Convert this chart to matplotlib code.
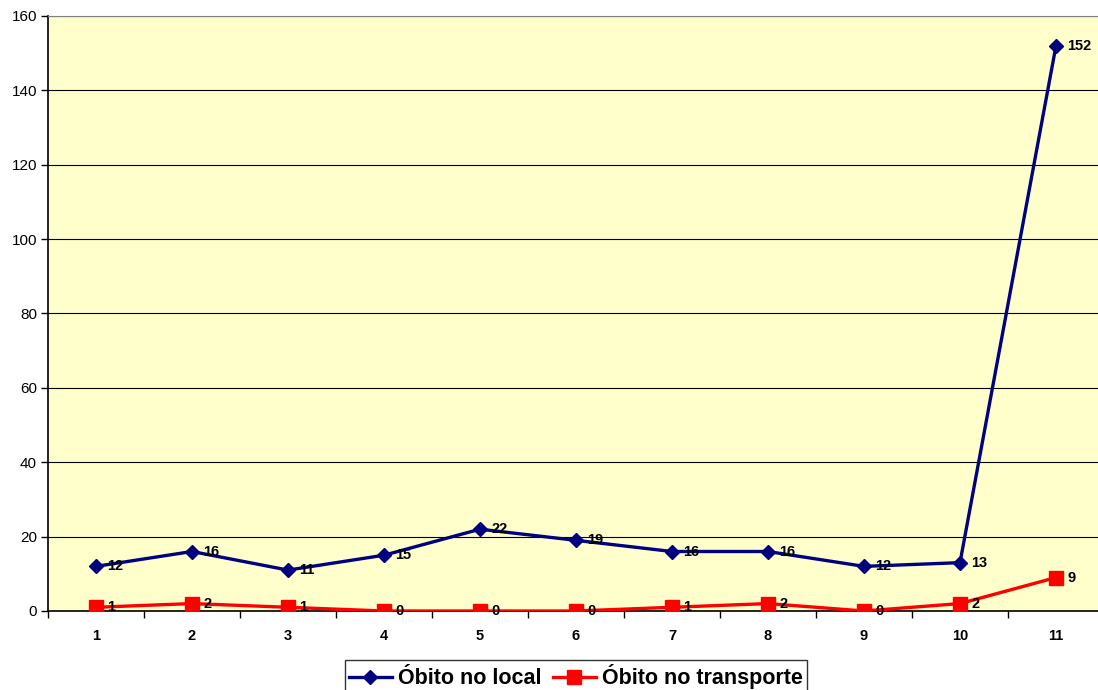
import numpy as np
import matplotlib
matplotlib.use("Agg")
import matplotlib.pyplot as plt

plt.rcParams['font.family'] = ['Liberation Sans', 'DejaVu Sans']

categorias = [1, 2, 3, 4, 5, 6, 7, 8, 9, 10, 11]
obito_local = [12, 16, 11, 15, 22, 19, 16, 16, 12, 13, 152]
obito_transporte = [1, 2, 1, 0, 0, 0, 1, 2, 0, 2, 9]

fig = plt.figure(figsize=(10.98, 6.9), dpi=100)
ax = fig.add_axes([48/1098, 1-611/690, 1056/1098, 595/690])
ax.set_facecolor('#FFFFCC')

x = np.arange(1, len(categorias)+1)
ax.plot(x, obito_local, color='#000080', lw=2.4, marker='D', ms=7.5, label='Óbito no local', zorder=3)
ax.plot(x, obito_transporte, color='#FF0000', lw=2.4, marker='s', ms=9.5, label='Óbito no transporte', zorder=3)

# rótulos de dados à direita de cada ponto
for xi, v in zip(x, obito_local):
    ax.annotate(str(v), (xi, v), xytext=(11, 0), textcoords='offset pixels',
                ha='left', va='center', fontsize=10.5, fontweight='bold')
for xi, v in zip(x, obito_transporte):
    ax.annotate(str(v), (xi, v), xytext=(11, 0), textcoords='offset pixels',
                ha='left', va='center', fontsize=10.5, fontweight='bold')

ax.set_xlim(0.5, 11.5)
ax.set_ylim(0, 160)
ax.set_yticks(range(0, 161, 20))
ax.set_yticklabels([str(t) for t in range(0, 161, 20)], fontsize=11)
ax.set_xticks(x)
ax.set_xticklabels([str(c) for c in categorias], fontsize=10.5, fontweight='bold')
ax.set_xticks(np.arange(0.5, 12, 1), minor=True)
ax.tick_params(axis='x', which='major', length=0, pad=13)
ax.tick_params(axis='x', which='minor', length=5, width=1, direction='out')
ax.tick_params(axis='y', length=5, width=1, direction='out', pad=3)
ax.grid(axis='y', color='black', lw=0.8)
ax.set_axisbelow(True)
ax.spines['right'].set_visible(False)
ax.spines['top'].set_color('#808080')
ax.spines['left'].set_linewidth(1.2)
ax.spines['bottom'].set_linewidth(1.2)

leg = fig.legend(loc='upper center', bbox_to_anchor=(576/1098, 1-660/690), ncol=2,
                 prop={'weight': 'bold', 'size': 15.5}, frameon=True, fancybox=False,
                 handlelength=2.0, handletextpad=0.3, columnspacing=0.5,
                 borderpad=0.2, borderaxespad=0)
leg.get_frame().set_edgecolor('black')
leg.get_frame().set_linewidth(1)

fig.savefig('out.png', dpi=100)
